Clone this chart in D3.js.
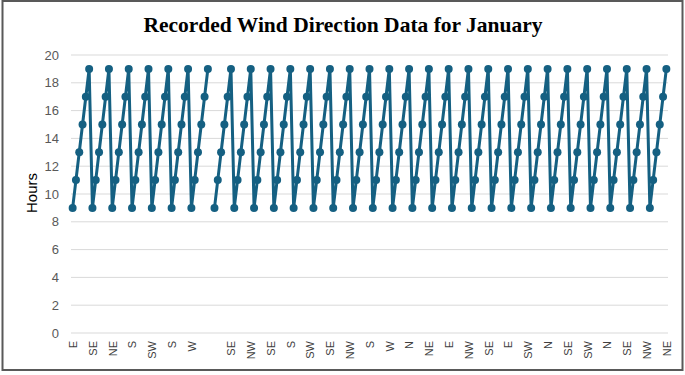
<!DOCTYPE html>
<html lang="en">
<head>
<meta charset="UTF-8"/>
<title>Recorded Wind Direction Data for January</title>
<script src="https://d3js.org/d3.v7.min.js"></script>
<style>
  body { margin: 0; background: #fff; }
</style>
</head>
<body>
<div id="chart"></div>
<script>
// hours per reading (one gap where a reading is missing)
var hours = [
  9, 11, 13, 15, 17, 19,  9, 11, 13, 15, 17, 19,  9, 11, 13, 15, 17, 19,
  9, 11, 13, 15, 17, 19,  9, 11, 13, 15, 17, 19,  9, 11, 13, 15, 17, 19,
  9, 11, 13, 15, 17, 19,
  null,
  9, 11, 13, 15, 17, 19,  9, 11, 13, 15, 17, 19,  9, 11, 13, 15, 17, 19,
  9, 11, 13, 15, 17, 19,  9, 11, 13, 15, 17, 19,  9, 11, 13, 15, 17, 19,
  9, 11, 13, 15, 17, 19,  9, 11, 13, 15, 17, 19,  9, 11, 13, 15, 17, 19,
  9, 11, 13, 15, 17, 19,  9, 11, 13, 15, 17, 19,  9, 11, 13, 15, 17, 19,
  9, 11, 13, 15, 17, 19,  9, 11, 13, 15, 17, 19,  9, 11, 13, 15, 17, 19,
  9, 11, 13, 15, 17, 19,  9, 11, 13, 15, 17, 19,  9, 11, 13, 15, 17, 19,
  9, 11, 13, 15, 17, 19,  9, 11, 13, 15, 17, 19,  9, 11, 13, 15, 17, 19,
  9, 11, 13, 15, 17, 19,  9, 11, 13, 15, 17, 19
];

// wind direction shown on every 6th reading
var tickLabels = ["E", "SE", "NE", "S", "SW", "S", "W", "", "SE", "NW", "SE",
                  "S", "SW", "SE", "NW", "S", "W", "N", "NE", "E", "NW", "SE",
                  "E", "SW", "N", "SE", "SW", "N", "SE", "NW", "NE"];
var tickStep = 6;

var yTicks = [0, 2, 4, 6, 8, 10, 12, 14, 16, 18, 20];

var w = 685, h = 375;
var plotLeft = 71, plotRight = 668, plotTop = 55, plotBottom = 333;
var lineColor = "#156082";

var svg = d3.select("#chart").append("svg")
    .attr("width", w)
    .attr("height", h);

// frame
svg.append("rect")
    .attr("x", 2.5).attr("y", 1)
    .attr("width", 680).attr("height", 369)
    .attr("fill", "white")
    .attr("stroke", "#595959")
    .attr("stroke-width", 2);

var idx = d3.range(hours.length);

var xScale = d3.scalePoint()
    .domain(idx)
    .range([plotLeft, plotRight])
    .padding(0.5);

var yScale = d3.scaleLinear()
    .domain([0, 20])
    .range([plotBottom, plotTop]);

// gridlines
svg.append("g")
    .selectAll("line")
    .data(yTicks)
    .enter()
    .append("line")
    .attr("x1", plotLeft)
    .attr("x2", plotRight)
    .attr("y1", function(d) { return yScale(d); })
    .attr("y2", function(d) { return yScale(d); })
    .attr("stroke", "#d9d9d9")
    .attr("stroke-width", 1);

// y axis labels
var yAxis = d3.axisLeft(yScale)
    .tickValues(yTicks)
    .tickSize(0)
    .tickPadding(12);

svg.append("g")
    .attr("transform", "translate(" + plotLeft + ",0)")
    .call(yAxis)
    .call(function(g) { g.select(".domain").remove(); })
    .selectAll("text")
    .attr("font-family", "Liberation Sans, Arial, sans-serif")
    .attr("font-size", "13px")
    .attr("fill", "#595959");

// x axis labels
var xAxis = d3.axisBottom(xScale)
    .tickValues(d3.range(0, hours.length, tickStep))
    .tickFormat(function(d, i) { return tickLabels[i]; })
    .tickSize(0);

svg.append("g")
    .attr("transform", "translate(0," + plotBottom + ")")
    .call(xAxis)
    .call(function(g) { g.select(".domain").remove(); })
    .selectAll("text")
    .attr("font-family", "Liberation Sans, Arial, sans-serif")
    .attr("font-size", "11px")
    .attr("fill", "#404040")
    .attr("text-anchor", "end")
    .attr("transform", "rotate(-90)")
    .attr("x", -8)
    .attr("y", 0)
    .attr("dy", "0.35em");

// line
var line = d3.line()
    .defined(function(d) { return d != null; })
    .x(function(d, i) { return xScale(i); })
    .y(function(d) { return yScale(d); });

svg.append("path")
    .datum(hours)
    .attr("d", line)
    .attr("fill", "none")
    .attr("stroke", lineColor)
    .attr("stroke-width", 3)
    .attr("stroke-linejoin", "round");

// markers
svg.append("g")
    .selectAll("circle")
    .data(idx.filter(function(i) { return hours[i] != null; }))
    .enter()
    .append("circle")
    .attr("cx", function(i) { return xScale(i); })
    .attr("cy", function(i) { return yScale(hours[i]); })
    .attr("r", 4)
    .attr("fill", lineColor);

// title
svg.append("text")
    .attr("x", 343)
    .attr("y", 32)
    .attr("text-anchor", "middle")
    .attr("font-family", "Liberation Serif, Times New Roman, serif")
    .attr("font-weight", "bold")
    .attr("font-size", "21.5px")
    .attr("fill", "#000")
    .text("Recorded Wind Direction Data for January");

// y axis title
svg.append("text")
    .attr("transform", "translate(37,193) rotate(-90)")
    .attr("text-anchor", "middle")
    .attr("font-family", "Liberation Sans, Arial, sans-serif")
    .attr("font-size", "15px")
    .attr("fill", "#000")
    .text("Hours");
</script>
</body>
</html>
